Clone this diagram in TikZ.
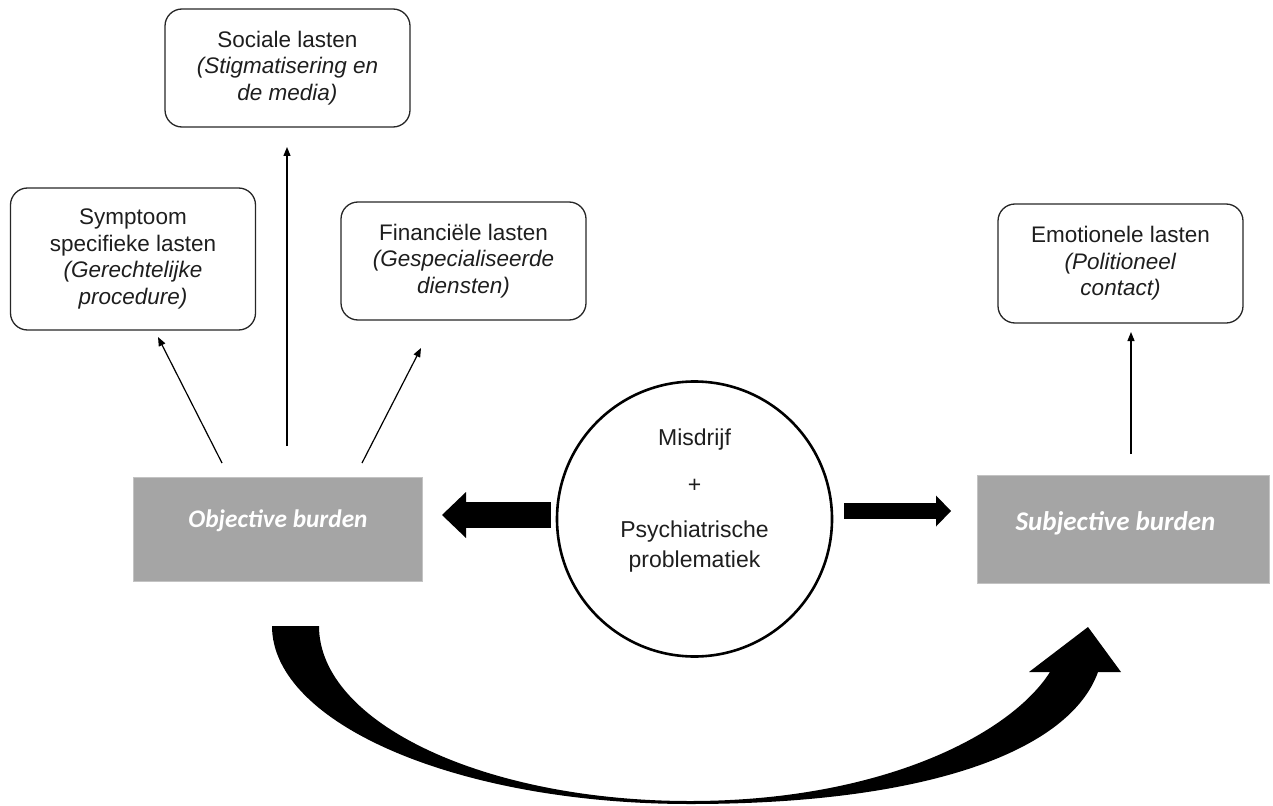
\documentclass[tikz,border=0pt]{standalone}
\usepackage{fontspec}
\setmainfont{Liberation Sans}
\newfontfamily\carlito{Carlito}
\usetikzlibrary{arrows.meta}
\definecolor{burdengray}{RGB}{165,165,165}
\definecolor{burdenedge}{RGB}{195,195,195}
\definecolor{txt}{RGB}{30,30,30}
\tikzset{
  lastbox/.style={draw=black!85, line width=1.3pt, rounded corners=17pt, minimum width=245pt, inner sep=0pt, align=center, text=txt, font=\fontsize{22.5}{26.5}\selectfont},
  burdenbox/.style={fill=burdengray, draw=burdenedge, line width=1pt, inner sep=0pt},
  burdentext/.style={text=white, anchor=base, inner sep=0pt},
  thinarrow/.style={line width=1.2pt, -{Triangle[length=9pt,width=7pt]}},
}
\begin{document}
\begin{tikzpicture}[x=1pt,y=-1pt]
\useasboundingbox (0,0) rectangle (1273,805);
% rounded boxes
\node[lastbox, minimum height=118pt] (sociale) at (287.5,68) {Sociale lasten\\\textit{(Stigmatisering en}\\\textit{de media)}};
\node[lastbox, minimum height=142pt] (symptoom) at (133,259) {Symptoom\\specifieke lasten\\\textit{(Gerechtelijke}\\\textit{procedure)}};
\node[lastbox, minimum height=118pt] (financieel) at (463.5,261) {Financiële lasten\\\textit{(Gespecialiseerde}\\\textit{diensten)}};
\node[lastbox, minimum height=119pt] (emotioneel) at (1120.5,263.5) {Emotionele lasten\\\textit{(Politioneel}\\\textit{contact)}};
% burden boxes
\node[burdenbox, minimum width=289pt, minimum height=104pt] (obj) at (277.5,529) {};
\node[burdentext, font=\carlito\bfseries\itshape\fontsize{25.3}{29}\selectfont] (objtext) at (278,527) {Objective burden};
\node[burdenbox, minimum width=292pt, minimum height=108pt] (subj) at (1123,529) {};
\node[burdentext, font=\carlito\bfseries\itshape\fontsize{27}{31}\selectfont] (subjtext) at (1115.5,530) {Subjective burden};
% circle
\node[draw, circle, line width=2.6pt, minimum size=275pt, inner sep=0pt] (crime) at (694.5,519) {};
\node[align=center, text=txt, font=\fontsize{23}{30}\selectfont, inner sep=0pt] (crimetext) at (694.5,501) {Misdrijf\\[17pt]+\\[15pt]Psychiatrische\\problematiek};
% thin arrows
\coordinate (a1s) at (222,463); \coordinate (a1e) at (158,337);
\coordinate (a2s) at (287,446); \coordinate (a2e) at (287,147);
\coordinate (a3s) at (362,463); \coordinate (a3e) at (421,348);
\coordinate (a4s) at (1131,454); \coordinate (a4e) at (1131,332);
\draw[thinarrow] (a1s) -- (a1e);
\draw[thinarrow] (a2s) -- (a2e);
\draw[thinarrow] (a3s) -- (a3e);
\draw[thinarrow] (a4s) -- (a4e);
% block arrows
\coordinate (lbs) at (551,515); \coordinate (lbe) at (442,515);
\draw[line width=26pt, -{Triangle[length=24pt 0 0,width=46pt 0 0,line width=0pt 0 0]}] (lbs) -- (lbe);
\coordinate (rbs) at (844,511); \coordinate (rbe) at (951,511);
\draw[line width=16pt, -{Triangle[length=15pt 0 0,width=31pt 0 0,line width=0pt 0 0]}] (rbs) -- (rbe);
% curved big arrow
\fill (272,626) .. controls (272,724) and (459,804) .. (690,804)
  .. controls (930,804) and (1070,750) .. (1098,672)
  -- (1121,672) -- (1088,627) -- (1029,672) -- (1050,672)
  .. controls (1010,735) and (880,801) .. (690,801)
  .. controls (485,801) and (319,723) .. (319,626) -- cycle;
\end{tikzpicture}
\end{document}
